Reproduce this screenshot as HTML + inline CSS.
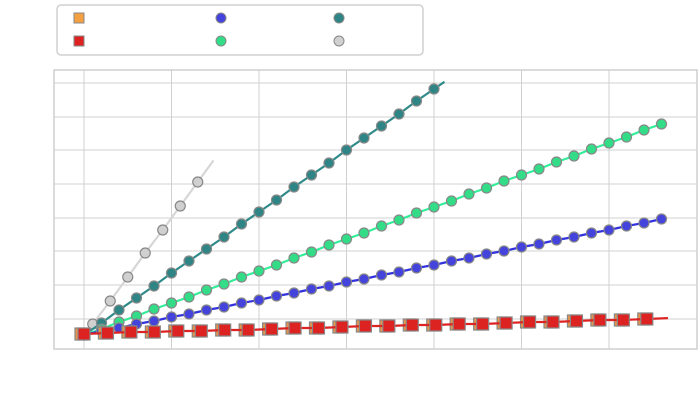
<!DOCTYPE html>
<html><head><meta charset="utf-8"><style>
html,body{margin:0;padding:0;background:#fff;}
svg{display:block;font-family:"Liberation Sans",sans-serif;}
</style></head><body>
<svg id="chart" width="700" height="400">
<g>
<rect x="57" y="5" width="366" height="50" rx="4" fill="#fff" stroke="#d0d0d0" stroke-width="1.5"/>
<rect x="74" y="13" width="10" height="10" fill="#f5a040" stroke="#888"/>
<rect x="74" y="36" width="10" height="10" fill="#dd2222" stroke="#888"/>
<circle cx="221" cy="18" r="5" fill="#4444dd" stroke="#888"/>
<circle cx="221" cy="41" r="5" fill="#33dd88" stroke="#888"/>
<circle cx="339" cy="18" r="5" fill="#2f8585" stroke="#888"/>
<circle cx="339" cy="41" r="5" fill="#d0d0d0" stroke="#888"/>
</g>
<rect x="54" y="70" width="643" height="279" fill="none" stroke="#cfcfcf" stroke-width="1.5"/>
<g id="grid"></g>
<g id="series"></g>
</svg>
<script>
const xGrid = [0, 5, 10, 15, 20, 25, 30];
const yGrid = [16, 50, 84, 117, 151, 185, 218, 252];
const redX = [0,1.34,2.68,4.02,5.36,6.7,8.04,9.38,10.72,12.06,13.4,14.74,16.08,17.42,18.76,20.1,21.44,22.78,24.12,25.46,26.8,28.14,29.48,30.82,32.16];
const redY = [1,2,3,3,4,4,5,5,6,7,7,8,9,9,10,10,11,11,12,13,13,14,15,15,16];
const orangeY = [1,2,3,3,4,4,5,5,6,7,7,8,9,9,10,10,11,11,12,13,13,14,15,15,16];
const blueY = [0,4,7,11,14,18,21,25,28,32,35,39,42,46,49,53,56,60,63,67,70,74,77,81,84,88,91,95,98,102,105,109,112,116];
const greenY = [0,6,13,19,26,32,38,45,51,58,64,70,77,83,90,96,102,109,115,122,128,134,141,147,154,160,166,173,179,186,192,198,205,211];
const tealY = [0,12,25,37,49,62,74,86,98,111,123,135,148,160,172,185,197,209,221,234,246];
const grayX = [0.5,1.5,2.5,3.5,4.5,5.5,6.5];
const grayY = [11,34,58,82,105,129,153];

const NS = "http://www.w3.org/2000/svg";
const xs = v => 84 + v * 17.5;
const ys = v => 335 - v;
function mk(tag, attrs, parent){const e=document.createElementNS(NS,tag);for(const k in attrs)e.setAttribute(k,attrs[k]);parent.appendChild(e);return e;}
const grid = document.getElementById('grid'), ser = document.getElementById('series');
xGrid.forEach(v=>{const l=mk('line',{x1:xs(v),x2:xs(v),y1:70,y2:349,stroke:'#d0d0d0','stroke-width':1},grid);

});
yGrid.forEach(v=>{const l=mk('line',{x1:54,x2:697,y1:ys(v),y2:ys(v),stroke:'#d0d0d0','stroke-width':1},grid);

});

function line(xv, yv, color, name, extStart, extEnd){
  let pts = xv.map((x,i)=>[xs(x),ys(yv[i])]);
  const n=pts.length;
  if(extEnd){const [a,b]=[pts[n-2],pts[n-1]];pts.push([b[0]+(b[0]-a[0])*extEnd,b[1]+(b[1]-a[1])*extEnd]);}
  if(extStart){const [a,b]=[pts[0],pts[1]];pts.unshift([a[0]-(b[0]-a[0])*extStart,a[1]-(b[1]-a[1])*extStart]);}
  const p=mk('polyline',{points:pts.map(p=>p.join(',')).join(' '),fill:'none',stroke:color,'stroke-width':2.2},ser);
  
  
}
function circles(xv,yv,color,name){xv.forEach((x,i)=>{const c=mk('circle',{cx:xs(x),cy:ys(yv[i]),r:5,fill:color,stroke:'#888','stroke-width':1.2},ser);

});}
function squares(xv,yv,color,name,dx){xv.forEach((x,i)=>{const r=mk('rect',{x:xs(x)-6+dx,y:ys(yv[i])-6,width:12,height:12,fill:color,stroke:'#888','stroke-width':1.2},ser);

});}
const idx = n => Array.from({length:n},(_,i)=>i);

line(grayX, grayY, '#d6d6d6', 'gray', 0.5, 0.9);
circles(grayX, grayY, '#d0d0d0', 'gray');
line(idx(tealY.length), tealY, '#2f8a8a', 'teal', 0, 0.6);
circles(idx(tealY.length), tealY, '#2f8585', 'teal');
line(idx(greenY.length), greenY, '#33ee99', 'green', 0, 0);
circles(idx(greenY.length), greenY, '#33dd88', 'green');
line(idx(blueY.length), blueY, '#3333dd', 'blue', 0, 0);
circles(idx(blueY.length), blueY, '#4444dd', 'blue');
squares(redX, orangeY, '#e8944a', 'orange', -3);
line(redX, redY, '#dd2222', 'red', 0, 0.9);
squares(redX, redY, '#dd2222', 'red', 0);
</script>
</body></html>
